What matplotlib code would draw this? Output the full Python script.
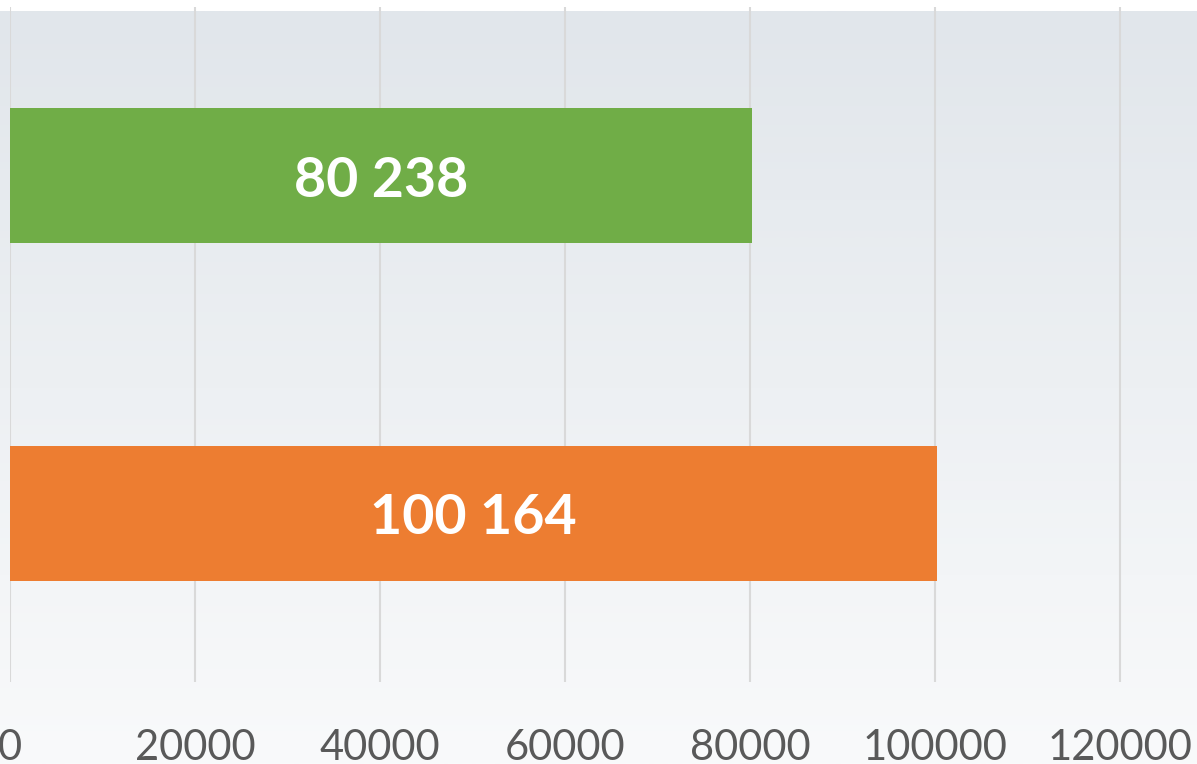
import numpy as np
import matplotlib
matplotlib.use("Agg")
import matplotlib.pyplot as plt
from matplotlib.colors import LinearSegmentedColormap

# data (bottom to top)
categories = ["B", "A"]
values = [100164, 80238]
bar_colors = ["#ED7D31", "#70AD47"]
value_labels = ["100 164", "80 238"]
x_ticks = [0, 20000, 40000, 60000, 80000, 100000, 120000]

plt.rcParams["font.family"] = ["Lato", "DejaVu Sans"]

W, H = 1197, 764
fig = plt.figure(figsize=(W / 100, H / 100), dpi=100)

# background gradient (white strip on top)
bg = fig.add_axes([0, 0, 1, (H - 11) / H], zorder=0)
grad = np.linspace(0, 1, 256).reshape(-1, 1)
cmap = LinearSegmentedColormap.from_list("bg", ["#F9FAFB", "#E1E6EB"])
bg.imshow(grad, aspect="auto", cmap=cmap, origin="lower", extent=[0, 1, 0, 1])
bg.axis("off")

ax = fig.add_axes([10 / W, (H - 682) / H, 1 - 10 / W, (682 - 7) / H], zorder=1)
ax.patch.set_alpha(0)

y = np.arange(len(categories))
bars = ax.barh(y, values, height=0.4, color=bar_colors, zorder=3)

# value labels, baseline placed so digits sit centred in the bar
for b, lab in zip(bars, value_labels):
    ax.annotate(lab, (b.get_width() / 2, b.get_y() + b.get_height() / 2),
                xytext=(0, -21), textcoords="offset pixels",
                ha="center", va="baseline", color="white", fontsize=40,
                fontweight="bold", zorder=4)

ax.set_xlim(0, 128324)
ax.set_ylim(-0.5, 1.5)
ax.set_xticks(x_ticks)
ax.set_xticklabels([str(t) for t in x_ticks])
ax.set_yticks([])
ax.grid(axis="x", color="#D9D9D9", linewidth=1.5, zorder=1)
ax.tick_params(axis="x", length=0, labelsize=30, labelcolor="#595959", pad=34)
for s in ax.spines.values():
    s.set_visible(False)

fig.savefig("out.png", dpi=100)
